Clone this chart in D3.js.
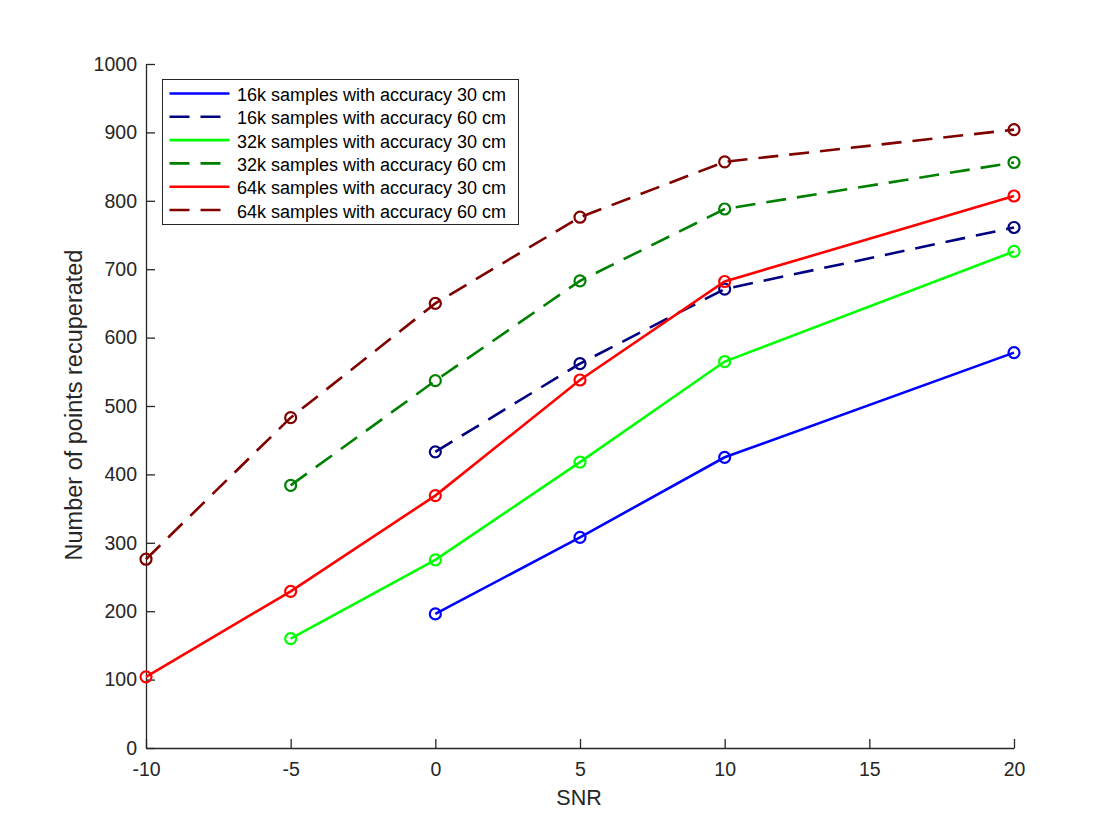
<!DOCTYPE html>
<html>
<head>
<meta charset="utf-8">
<script src="https://cdn.jsdelivr.net/npm/d3@7"></script>
<style>
  html, body { margin: 0; padding: 0; background: #fff; }
  svg { display: block; font-family: "Liberation Sans", Arial, Helvetica, sans-serif; }
</style>
</head>
<body>
<svg id="chart" width="1120" height="840"></svg>
<script>
// ---- data ----
const snr16 = [0, 5, 10, 20];
const snr32 = [-5, 0, 5, 10, 20];
const snr64 = [-10, -5, 0, 5, 10, 20];

const s16_30 = [196, 308, 425, 578];
const s16_60 = [433, 562, 671, 761];
const s32_30 = [160, 275, 418, 565, 726];
const s32_60 = [384, 537, 683, 788, 856];
const s64_30 = [104, 229, 369, 538, 682, 807];
const s64_60 = [276, 483, 650, 776, 857, 904];

const seriesNames = [
  "16k samples with accuracy 30 cm",
  "16k samples with accuracy 60 cm",
  "32k samples with accuracy 30 cm",
  "32k samples with accuracy 60 cm",
  "64k samples with accuracy 30 cm",
  "64k samples with accuracy 60 cm"
];
const xTicks = [-10, -5, 0, 5, 10, 15, 20];
const yTicks = [0, 100, 200, 300, 400, 500, 600, 700, 800, 900, 1000];

const series = [
  { name: seriesNames[0], x: snr16, y: s16_30, color: "#0000ff", dashed: false },
  { name: seriesNames[1], x: snr16, y: s16_60, color: "#000080", dashed: true },
  { name: seriesNames[2], x: snr32, y: s32_30, color: "#00ff00", dashed: false },
  { name: seriesNames[3], x: snr32, y: s32_60, color: "#008000", dashed: true },
  { name: seriesNames[4], x: snr64, y: s64_30, color: "#ff0000", dashed: false },
  { name: seriesNames[5], x: snr64, y: s64_60, color: "#800000", dashed: true }
];

// ---- layout ----
const L = 146, R = 1014, T = 64, B = 748;
const ink = "#262626";
const svg = d3.select("#chart");

const x = d3.scaleLinear().domain([-10, 20]).range([L, R]);
const y = d3.scaleLinear().domain([0, 1000]).range([B, T]);

const fmt = d => String(d);

// axes
const xAxis = d3.axisBottom(x).tickValues(xTicks).tickFormat(fmt)
  .tickSizeInner(-9).tickSizeOuter(0).tickPadding(14);
const yAxis = d3.axisLeft(y).tickValues(yTicks).tickFormat(fmt)
  .tickSizeInner(-9).tickSizeOuter(0).tickPadding(9);

const gx = svg.append("g").attr("transform", `translate(0,${B})`).call(xAxis);
const gy = svg.append("g").attr("transform", `translate(${L},0)`).call(yAxis);
[gx, gy].forEach(g => {
  g.attr("font-size", null).attr("font-family", null);
  g.select(".domain").attr("stroke", ink).attr("stroke-width", 1.3);
  g.selectAll(".tick line").attr("stroke", ink).attr("stroke-width", 1.3);
  g.selectAll(".tick text").attr("fill", ink).style("font-size", "19.5px")
    .style("font-family", "'Liberation Sans', Arial, sans-serif");
});

// axis labels
svg.append("text").attr("x", 579).attr("y", 805).attr("text-anchor", "middle")
  .attr("fill", ink).style("font-size", "21.5px").text("SNR");
svg.append("text").attr("transform", `translate(82,405) rotate(-90)`)
  .attr("text-anchor", "middle").attr("fill", ink).style("font-size", "23.5px")
  .text("Number of points recuperated");

// lines
const line = d3.line().x(d => x(d[0])).y(d => y(d[1]));
series.forEach(s => {
  const pts = s.x.map((v, i) => [v, s.y[i]]);
  svg.append("path").datum(pts).attr("d", line)
    .attr("fill", "none").attr("stroke", s.color).attr("stroke-width", 2.6)
    .attr("stroke-dasharray", s.dashed ? "20,11" : null);
  svg.append("g").selectAll("circle").data(pts).join("circle")
    .attr("cx", d => x(d[0])).attr("cy", d => y(d[1])).attr("r", 5.5)
    .attr("fill", "none").attr("stroke", s.color).attr("stroke-width", 2.2);
});

// legend
const lg = svg.append("g");
lg.append("rect").attr("x", 162.5).attr("y", 79.5).attr("width", 356).attr("height", 145)
  .attr("fill", "#fff").attr("stroke", ink).attr("stroke-width", 1);
series.forEach((s, i) => {
  const yy = 93.5 + i * 23.3;
  lg.append("line").attr("x1", 169.5).attr("x2", 229.5).attr("y1", yy).attr("y2", yy)
    .attr("stroke", s.color).attr("stroke-width", 2.6)
    .attr("stroke-dasharray", s.dashed ? "20,11" : null);
  lg.append("text").attr("x", 237).attr("y", yy + 7.5).attr("fill", "#000")
    .style("font-size", "18px").text(s.name);
});
</script>
</body>
</html>
